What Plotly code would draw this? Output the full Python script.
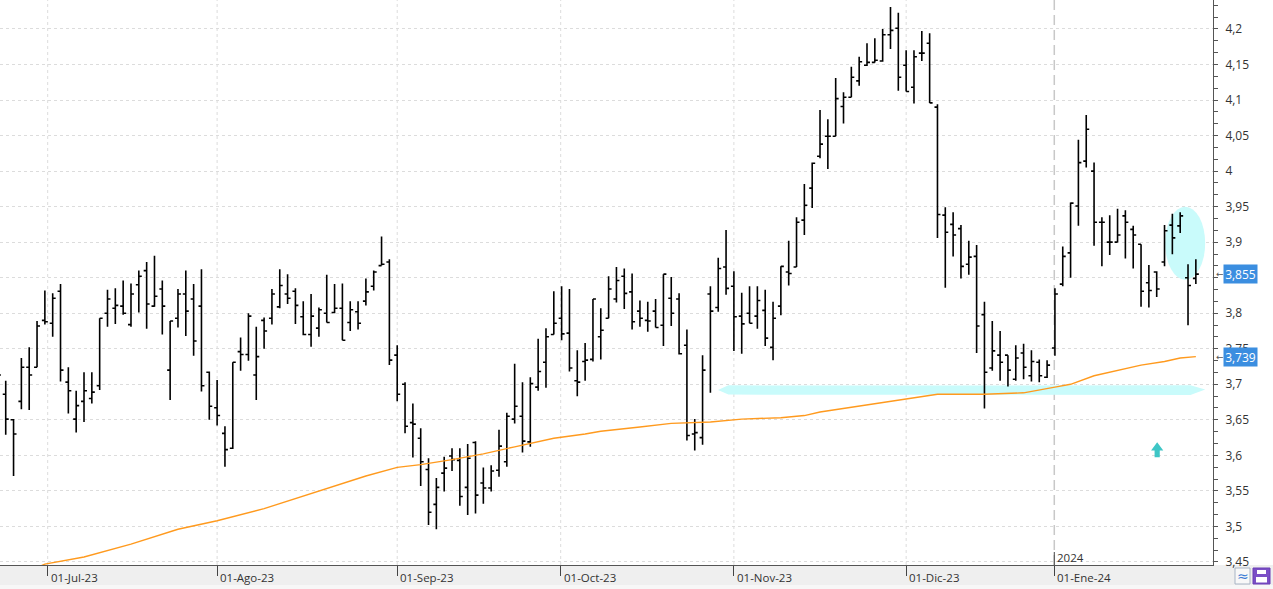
import pandas as pd
import plotly.graph_objects as go

# ---------------- data ----------------
holidays = ["2023-12-25", "2023-12-26", "2024-01-01"]
dates = [d for d in pd.bdate_range("2023-06-22", "2024-01-26") if d.strftime("%Y-%m-%d") not in holidays]

open_ = [3.725, 3.686, 3.650, 3.676, 3.724, 3.724, 3.790,
         3.786, 3.831, 3.703, 3.651, 3.676, 3.680, 3.698, 3.800, 3.807, 3.810,
         3.784, 3.840, 3.860, 3.810, 3.834, 3.720, 3.793, 3.827, 3.820, 3.810,
         3.717, 3.667, 3.631, 3.610, 3.746, 3.742, 3.713, 3.790, 3.793, 3.809,
         3.827, 3.831, 3.795, 3.770, 3.779, 3.800, 3.801, 3.807, 3.787, 3.802,
         3.817, 3.838, 3.867, 3.872, 3.741, 3.700, 3.646, 3.624, 3.580, 3.531,
         3.575, 3.599, 3.593, 3.555, 3.618, 3.561, 3.554, 3.579, 3.591, 3.651,
         3.655, 3.619, 3.696, 3.731, 3.770, 3.793, 3.772, 3.705, 3.732, 3.735,
         3.767, 3.793, 3.820, 3.852, 3.830, 3.803, 3.790, 3.803, 3.783, 3.821,
         3.820, 3.755, 3.630, 3.625, 3.827, 3.808, 3.865, 3.838, 3.796, 3.800,
         3.796, 3.804, 3.752, 3.810, 3.858, 3.865, 3.931, 3.976, 4.021, 4.049,
         4.049, 4.091, 4.104, 4.127, 4.149, 4.153, 4.155, 4.192, 4.201, 4.149,
         4.118, 4.166, 4.180, 4.090, 3.938, 3.925, 3.919, 3.869, 3.880, 3.798,
         3.723, 3.741, 3.741, 3.707, 3.744, 3.712, 3.731, 3.710, 3.751, 3.841,
         3.885, 3.951, 4.014, 4.000, 3.928, 3.900, 3.900, 3.937, 3.918, 3.897,
         3.843, 3.858, 3.872, 3.924, 3.923, 3.850, 3.849]
high = [3.745, 3.705, 3.651, 3.737, 3.752, 3.789, 3.832,
        3.828, 3.841, 3.724, 3.691, 3.717, 3.717, 3.793, 3.833, 3.835, 3.846,
        3.842, 3.860, 3.872, 3.881, 3.846, 3.789, 3.834, 3.860, 3.841, 3.862,
        3.718, 3.706, 3.641, 3.731, 3.766, 3.800, 3.781, 3.794, 3.834, 3.862,
        3.855, 3.835, 3.817, 3.827, 3.808, 3.854, 3.841, 3.842, 3.817, 3.817,
        3.849, 3.860, 3.908, 3.876, 3.755, 3.703, 3.673, 3.638, 3.596, 3.568,
        3.598, 3.610, 3.610, 3.616, 3.620, 3.583, 3.586, 3.636, 3.660, 3.729,
        3.703, 3.710, 3.764, 3.779, 3.831, 3.838, 3.834, 3.748, 3.758, 3.820,
        3.807, 3.852, 3.865, 3.863, 3.856, 3.818, 3.816, 3.820, 3.855, 3.851,
        3.828, 3.777, 3.651, 3.741, 3.838, 3.878, 3.917, 3.859, 3.829, 3.838,
        3.838, 3.833, 3.816, 3.866, 3.902, 3.935, 3.982, 4.012, 4.086, 4.073,
        4.131, 4.111, 4.147, 4.161, 4.180, 4.187, 4.200, 4.231, 4.223, 4.170,
        4.170, 4.197, 4.194, 4.094, 3.949, 3.942, 3.924, 3.902, 3.896, 3.816,
        3.789, 3.775, 3.741, 3.755, 3.757, 3.748, 3.735, 3.734, 3.835, 3.894,
        3.956, 4.044, 4.079, 4.012, 3.935, 3.938, 3.947, 3.945, 3.923, 3.897,
        3.868, 3.859, 3.924, 3.940, 3.942, 3.869, 3.876]
low = [3.700, 3.629, 3.571, 3.665, 3.664, 3.724, 3.784,
       3.767, 3.704, 3.659, 3.632, 3.647, 3.673, 3.692, 3.781, 3.785, 3.798,
       3.781, 3.801, 3.778, 3.809, 3.770, 3.678, 3.780, 3.768, 3.740, 3.690,
       3.650, 3.642, 3.584, 3.609, 3.719, 3.733, 3.678, 3.750, 3.784, 3.807,
       3.813, 3.785, 3.769, 3.753, 3.767, 3.787, 3.800, 3.762, 3.775, 3.777,
       3.811, 3.832, 3.867, 3.727, 3.676, 3.631, 3.597, 3.557, 3.502, 3.496,
       3.549, 3.578, 3.529, 3.516, 3.518, 3.532, 3.549, 3.570, 3.584, 3.645,
       3.604, 3.612, 3.691, 3.695, 3.770, 3.762, 3.718, 3.683, 3.705, 3.732,
       3.735, 3.793, 3.815, 3.806, 3.777, 3.781, 3.774, 3.780, 3.754, 3.782,
       3.742, 3.621, 3.607, 3.615, 3.688, 3.802, 3.826, 3.747, 3.743, 3.786,
       3.778, 3.754, 3.734, 3.797, 3.839, 3.865, 3.910, 3.948, 4.018, 4.003,
       4.049, 4.067, 4.104, 4.120, 4.148, 4.153, 4.154, 4.172, 4.113, 4.112,
       4.095, 4.155, 4.096, 3.906, 3.836, 3.880, 3.849, 3.854, 3.744, 3.666,
       3.719, 3.705, 3.697, 3.705, 3.707, 3.704, 3.703, 3.709, 3.740, 3.838,
       3.850, 3.923, 4.005, 3.895, 3.866, 3.882, 3.900, 3.877, 3.863, 3.809,
       3.808, 3.823, 3.866, 3.883, 3.913, 3.783, 3.841]
close = [3.713, 3.651, 3.630, 3.724, 3.713, 3.782, 3.788,
         3.821, 3.720, 3.691, 3.670, 3.691, 3.689, 3.793, 3.820, 3.811, 3.800,
         3.827, 3.852, 3.813, 3.824, 3.810, 3.789, 3.827, 3.803, 3.761, 3.698,
         3.669, 3.656, 3.608, 3.731, 3.742, 3.796, 3.739, 3.775, 3.827, 3.839,
         3.821, 3.811, 3.770, 3.796, 3.805, 3.787, 3.807, 3.762, 3.805, 3.786,
         3.830, 3.858, 3.869, 3.734, 3.686, 3.641, 3.644, 3.591, 3.520, 3.555,
         3.582, 3.594, 3.542, 3.596, 3.544, 3.554, 3.578, 3.613, 3.655, 3.669,
         3.620, 3.701, 3.718, 3.767, 3.786, 3.771, 3.723, 3.703, 3.734, 3.820,
         3.776, 3.834, 3.846, 3.828, 3.788, 3.793, 3.789, 3.780, 3.855, 3.800,
         3.743, 3.628, 3.632, 3.720, 3.803, 3.863, 3.835, 3.795, 3.785, 3.786,
         3.818, 3.765, 3.793, 3.866, 3.856, 3.928, 3.952, 4.011, 4.038, 4.049,
         4.102, 4.104, 4.132, 4.154, 4.153, 4.156, 4.192, 4.198, 4.132, 4.112,
         4.161, 4.166, 4.096, 3.939, 3.914, 3.910, 3.866, 3.879, 3.782, 3.717,
         3.747, 3.731, 3.720, 3.737, 3.724, 3.732, 3.712, 3.727, 3.827, 3.880,
         3.955, 4.012, 4.059, 3.928, 3.928, 3.900, 3.910, 3.928, 3.910, 3.831,
         3.832, 3.834, 3.916, 3.906, 3.937, 3.839, 3.855]

# moving average read at selected bars (bar position, value)
ma_pos = [5, 6, 11, 17, 23, 28, 34, 39, 47, 51, 54, 58, 62, 66, 71, 75, 77, 82, 86, 91,
          95, 100, 103, 105, 108, 111, 114, 116, 120, 126, 131, 135, 137, 140, 142,
          146, 149, 151, 153]
ma_val = [3.442, 3.447, 3.457, 3.475, 3.496, 3.508, 3.525, 3.543, 3.571, 3.583, 3.587,
          3.594, 3.602, 3.612, 3.624, 3.630, 3.634, 3.640, 3.645, 3.647, 3.651, 3.653,
          3.656, 3.661, 3.666, 3.671, 3.675, 3.679, 3.686, 3.686, 3.688, 3.696, 3.700,
          3.712, 3.717, 3.727, 3.732, 3.737, 3.739]

month_labels = ["01-Jul-23", "01-Ago-23", "01-Sep-23", "01-Oct-23", "01-Nov-23", "01-Dic-23", "01-Ene-24"]
y_ticks = [3.45, 3.5, 3.55, 3.6, 3.65, 3.7, 3.75, 3.8, 3.85, 3.9, 3.95, 4.0, 4.05, 4.1, 4.15, 4.2]
y_labels = ["3,45", "3,5", "3,55", "3,6", "3,65", "3,7", "3,75", "3,8", "", "3,9", "3,95",
            "4", "4,05", "4,1", "4,15", "4,2"]
last_price = 3.855
last_ma = 3.739

# ---------------- positions ----------------
assert len(dates) == len(open_) == len(high) == len(low) == len(close)
pos = list(range(len(dates)))
first_idx = []
seen = set()
for i, d in enumerate(dates):
    key = (d.year, d.month)
    if key not in seen and not (d.year == 2023 and d.month == 6):
        seen.add(key)
        first_idx.append(i)
tick_offset = [-0.64, 0, 0, -0.12, 0, 0, -0.08]
tick_pos = [p + o for p, o in zip(first_idx, tick_offset)]
jan_pos = tick_pos[-1]

PW, PH = 1213, 565  # plot area size in px


def px_x(px):
    return px / PW


def px_y(py):
    return (PH - py) / PH


fig = go.Figure()
fig.add_trace(go.Ohlc(
    x=pos, open=open_, high=high, low=low, close=close,
    increasing=dict(line=dict(color="black", width=1.6)),
    decreasing=dict(line=dict(color="black", width=1.6)),
    tickwidth=0.38, hoverinfo="skip", showlegend=False))
fig.add_trace(go.Scatter(x=ma_pos, y=ma_val, mode="lines",
                         line=dict(color="#ff9a1e", width=1.4), hoverinfo="skip",
                         showlegend=False))

shapes = []
# bottom date band
shapes.append(dict(type="rect", xref="paper", yref="paper", x0=0, x1=px_x(1273),
                   y0=px_y(585), y1=px_y(565), fillcolor="#efefef", line=dict(width=0), layer="below"))
shapes.append(dict(type="rect", xref="paper", yref="paper", x0=0, x1=px_x(1273),
                   y0=px_y(589), y1=px_y(585), fillcolor="#f7f7f7", line=dict(width=0), layer="below"))
# vertical month gridlines
for tp in tick_pos[:-1]:
    shapes.append(dict(type="line", xref="x", yref="paper", x0=tp, x1=tp, y0=0, y1=1,
                       line=dict(color="#dcdcdc", width=1, dash="3px,3px"), layer="below"))
# year separator
shapes.append(dict(type="line", xref="x", yref="paper", x0=jan_pos, x1=jan_pos, y0=0, y1=1,
                   line=dict(color="#c8c8c8", width=1.5, dash="10px,5px"), layer="below"))
shapes.append(dict(type="line", xref="x", yref="paper", x0=jan_pos, x1=jan_pos, y0=0, y1=px_y(552),
                   line=dict(color="#444444", width=1), layer="above"))
# cyan support band (brush stroke)
shapes.append(dict(type="path", xref="x", yref="y",
                   path="M 91.97,3.692 L 93.3,3.6985 L 120,3.6982 L 152.3,3.6985 L 154.2,3.6925 "
                        "L 152.3,3.6850 L 120,3.6852 L 93.3,3.6855 Z",
                   fillcolor="#c9fbfb", line=dict(width=0), layer="between"))
# cyan ellipse
shapes.append(dict(type="circle", xref="x", yref="y", x0=149.08, x1=154.19, y0=3.847, y1=3.950,
                   fillcolor="#c9fbfb", line=dict(width=0), layer="between"))
# teal up arrow
ax = 148.06
shapes.append(dict(type="path", xref="x", yref="y",
                   path=f"M {ax},3.6185 L {ax+0.78},3.6068 L {ax+0.33},3.6068 L {ax+0.33},3.5975 "
                        f"L {ax-0.33},3.5975 L {ax-0.33},3.6068 L {ax-0.78},3.6068 Z",
                   fillcolor="#3ec6c6", line=dict(width=0), layer="above"))
# bottom-right icons
shapes.append(dict(type="rect", xref="paper", yref="paper", x0=px_x(1235), x1=px_x(1250),
                   y0=px_y(584), y1=px_y(568), fillcolor="#f8f8f8", line=dict(color="#a8b4c4", width=1)))
shapes.append(dict(type="rect", xref="paper", yref="paper", x0=px_x(1253), x1=px_x(1270),
                   y0=px_y(584), y1=px_y(568), fillcolor="#7b4fc6", line=dict(color="#6a3fb5", width=1)))
shapes.append(dict(type="rect", xref="paper", yref="paper", x0=px_x(1257), x1=px_x(1266),
                   y0=px_y(574), y1=px_y(570), fillcolor="white", line=dict(width=0)))
shapes.append(dict(type="rect", xref="paper", yref="paper", x0=px_x(1256), x1=px_x(1267),
                   y0=px_y(582.5), y1=px_y(577), fillcolor="white", line=dict(width=0)))

annotations = []
for tp, lab in zip(tick_pos, month_labels):
    annotations.append(dict(x=tp, xref="x", y=px_y(577.5), yref="paper", text=lab, showarrow=False,
                            xanchor="left", yanchor="middle", xshift=1,
                            font=dict(size=11.5, color="#333333")))
annotations.append(dict(x=jan_pos, xref="x", y=px_y(557), yref="paper", text="2024", showarrow=False,
                        xanchor="left", yanchor="middle", xshift=1, font=dict(size=11.5, color="#333333")))
for val in (last_price, last_ma):
    annotations.append(dict(x=px_x(1213.5), xref="paper", y=val, yref="y", text="←", showarrow=False,
                            xanchor="left", yanchor="middle", font=dict(size=9, color="#555555",
                                                                       family="DejaVu Sans")))
    annotations.append(dict(x=px_x(1222.5), xref="paper", y=val, yref="y",
                            text=f"{val:.3f}".replace(".", ","), showarrow=False,
                            xanchor="left", yanchor="middle", bgcolor="#3b8ee0", width=31, height=16,
                            borderpad=1, font=dict(size=12, color="white")))
annotations.append(dict(x=px_x(1242.5), xref="paper", y=px_y(576), yref="paper", text="≈",
                        showarrow=False, xanchor="center", yanchor="middle",
                        font=dict(size=14, color="#3a7bd5", family="DejaVu Sans")))

fig.update_layout(
    width=1273, height=589,
    margin=dict(l=0, r=60, t=0, b=24, pad=0),
    paper_bgcolor="white", plot_bgcolor="white",
    font=dict(family="Open Sans", size=12, color="#333333"),
    showlegend=False, hovermode=False,
    shapes=shapes, annotations=annotations,
    xaxis=dict(type="linear", range=[0.27, 155.19], showgrid=False, zeroline=False,
               tickmode="array", tickvals=tick_pos, ticktext=[""] * len(tick_pos),
               ticks="outside", ticklen=10, tickcolor="#444444", tickwidth=1,
               showline=True, linecolor="#555555", linewidth=1,
               rangeslider=dict(visible=False), fixedrange=True),
    yaxis=dict(side="right", range=[3.4457, 4.2408], tickmode="array", tickvals=y_ticks,
               ticktext=y_labels, showgrid=True, gridcolor="#dcdcdc", griddash="3px,3px",
               gridwidth=1, zeroline=False, ticks="outside", ticklen=4, tickcolor="#555555",
               ticklabelstandoff=5, showline=True, linecolor="#555555", linewidth=1,
               tickfont=dict(size=12, color="#333333"),
               minor=dict(tickmode="linear", tick0=3.45, dtick=0.05 / 3, ticks="outside",
                          ticklen=4, tickcolor="#555555", showgrid=False),
               fixedrange=True),
)

fig.write_html("out.html", config={"displayModeBar": False})
